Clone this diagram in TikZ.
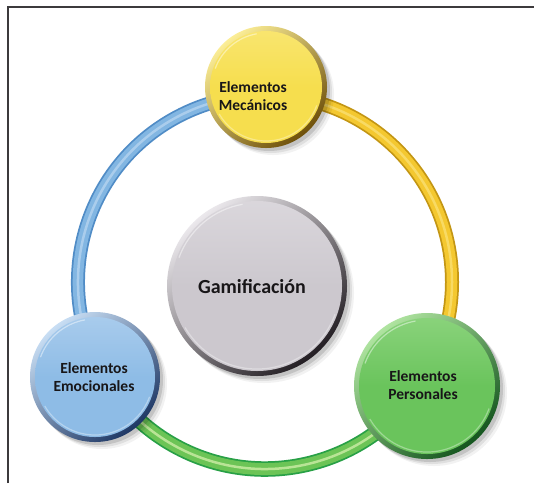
\documentclass[tikz,border=0pt]{standalone}
\usepackage{fontspec}
\setmainfont{Carlito}
\usetikzlibrary{calc}
\definecolor{txt}{RGB}{24,22,24}
\definecolor{framec}{RGB}{60,58,60}
% ring colours
\definecolor{bEdge}{RGB}{80,140,198}\definecolor{bMain}{RGB}{130,182,226}\definecolor{bStripe}{RGB}{170,205,236}
\definecolor{yEdge}{RGB}{195,150,20}\definecolor{yMain}{RGB}{244,200,48}\definecolor{yStripe}{RGB}{248,218,100}
\definecolor{gEdge}{RGB}{40,160,70}\definecolor{gMain}{RGB}{108,196,86}\definecolor{gStripe}{RGB}{185,228,150}
% bubble colours
\definecolor{yFace}{RGB}{246,222,78}\definecolor{yLight}{RGB}{252,238,150}\definecolor{yDark}{RGB}{110,80,10}
\definecolor{gyFace}{RGB}{204,200,206}\definecolor{gyLight}{RGB}{235,232,236}\definecolor{gyDark}{RGB}{35,30,35}
\definecolor{blFace}{RGB}{142,188,230}\definecolor{blLight}{RGB}{200,222,244}\definecolor{blDark}{RGB}{30,55,100}
\definecolor{grFace}{RGB}{106,196,92}\definecolor{grLight}{RGB}{175,228,160}\definecolor{grDark}{RGB}{20,85,30}
\newcommand\bub[6]{% #1 name, #2 centre, #3 radius, #4 face, #5 light, #6 dark
  \foreach \s/\o in {7/0.05,5/0.08,3/0.12}{\fill[black,opacity=\o] ($(#2)+(\s,\s)$) circle[radius=#3];}
  \shade[top color=#5, bottom color=#6, shading angle=40] (#2) circle[radius=#3];
  \shade[top color=#5!45!#4, bottom color=#4, middle color=#4] (#2) circle[radius=#3-5];
  \draw[white, opacity=0.45, line width=1.2pt] ($(#2)+(200:#3-7)$) arc[start angle=200, end angle=260, radius=#3-7];
  \draw[white, opacity=0.35, line width=1.2pt] ($(#2)+(20:#3-7)$) arc[start angle=20, end angle=150, radius=#3-7];
  \node[circle, minimum size=2*#3, inner sep=0pt] (#1) at (#2) {};
}
\tikzset{
  lbl/.style={font=\bfseries\fontsize{15.5}{17.5}\selectfont, text=txt, align=center},
  biglbl/.style={font=\bfseries\fontsize{20}{22}\selectfont, text=txt, align=center},
  frameline/.style={draw=framec, line width=1.5pt},
  ringedge/.style={line width=14pt},
  ringmain/.style={line width=10.5pt},
  ringstripe/.style={line width=2.5pt},
  gringedge/.style={line width=15.5pt},
  gringmain/.style={line width=12pt},
}
\begin{document}
\begin{tikzpicture}[x=1pt,y=-1pt]
\useasboundingbox (0,0) rectangle (534,483);
\fill[white] (0,0) rectangle (534,483);
\draw[frameline] (8,483) -- (8,7) -- (534,7);

% ring
\coordinate (rc) at (265,282);
\coordinate (ringY) at ($(rc)+(270:187)$);
\coordinate (ringB) at ($(rc)+(152:187)$);
\coordinate (ringP) at ($(rc)+(31:187)$);
\foreach \st/\c in {ringedge/bEdge, ringmain/bMain, ringstripe/bStripe}
  \draw[\st, draw=\c] (ringB) arc[start angle=152, end angle=270, radius=187];
\foreach \st/\c in {ringedge/yEdge, ringmain/yMain, ringstripe/yStripe}
  \draw[\st, draw=\c] (ringY) arc[start angle=-90, end angle=31, radius=187];
\foreach \st/\c in {gringedge/gEdge, gringmain/gMain, ringstripe/gStripe}
  \draw[\st, draw=\c] (ringP) arc[start angle=31, end angle=152, radius=187];

% bubbles
\coordinate (cY) at (266,87);
\coordinate (cG) at (257,286);
\coordinate (cB) at (95,377);
\coordinate (cP) at (427,386);
\bub{Y}{cY}{61}{yFace}{yLight}{yDark}
\bub{G}{cG}{90}{gyFace}{gyLight}{gyDark}
\bub{B}{cB}{65}{blFace}{blLight}{blDark}
\bub{P}{cP}{73}{grFace}{grLight}{grDark}

% labels
\node[lbl] (tY) at (253,96) {Elementos\\Mecánicos};
\node[biglbl] (tG) at (252,287) {Gamificación};
\node[lbl] (tB) at (94,377) {Elementos\\Emocionales};
\node[lbl] (tP) at (423,385) {Elementos\\Personales};
\end{tikzpicture}
\end{document}
